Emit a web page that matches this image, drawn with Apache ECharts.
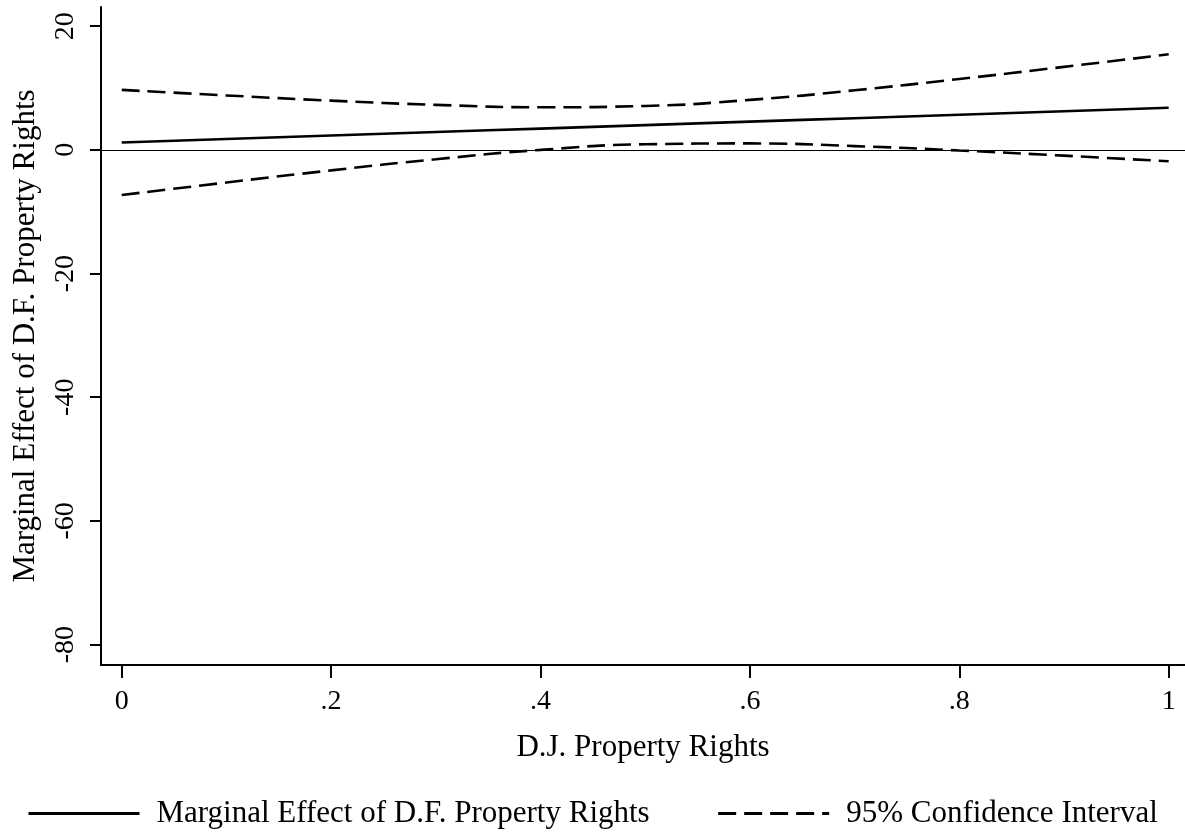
<!DOCTYPE html>
<html>
<head>
<meta charset="utf-8">
<script src="https://cdn.jsdelivr.net/npm/echarts@6/dist/echarts.min.js"></script>
<style>
  html, body { margin: 0; padding: 0; background: #fff; }
  #chart { width: 1185px; height: 833px; }
</style>
</head>
<body>
<div id="chart"></div>
<script>
// D.J. property rights values at which the marginal effect is evaluated
const djRights = [0, 0.1, 0.2, 0.3, 0.4, 0.5, 0.6, 0.7, 0.8, 0.9, 1.0];
// Marginal effect of D.F. property rights
const marginalEffect = [1.2, 1.76, 2.32, 2.88, 3.44, 4.0, 4.56, 5.12, 5.68, 6.24, 6.8];
// 95% confidence bounds
const ciUpper = [9.7, 8.8, 7.96, 7.28, 6.89, 7.1, 8.08, 9.63, 11.46, 13.42, 15.45];
const ciLower = [-7.3, -5.28, -3.32, -1.52, -0.01, 0.9, 1.04, 0.61, -0.1, -0.94, -1.85];
// Axis ticks
const xTicks = [0, 0.2, 0.4, 0.6, 0.8, 1];
const yTicks = [-80, -60, -40, -20, 0, 20];

const seriesNames = ['Marginal Effect of D.F. Property Rights', '95% Confidence Interval'];
const FONT = '"Liberation Serif", "Times New Roman", serif';
const TITLE_SIZE = 31;
const TICK_SIZE = 28;

const pairs = (ys) => djRights.map((x, i) => [x, ys[i]]);

const chart = echarts.init(document.getElementById('chart'), null, { renderer: 'canvas' });

chart.setOption({
  animation: false,
  backgroundColor: '#fff',
  textStyle: { fontFamily: FONT, color: '#000' },
  grid: { left: 101, top: 7, width: 1084, height: 658, containLabel: false },
  legend: {
    left: 27,
    top: 798,
    padding: 0,
    itemWidth: 111,
    itemHeight: 14,
    itemGap: 67,
    itemStyle: { opacity: 0 },
    lineStyle: { width: 3 },
    textStyle: { fontFamily: FONT, fontSize: TITLE_SIZE, color: '#000', padding: [0, 0, 0, 12] },
    data: seriesNames
  },
  xAxis: {
    type: 'value',
    min: -0.0198,
    max: 1.0156,
    name: 'D.J. Property Rights',
    nameLocation: 'middle',
    nameGap: 67,
    nameTextStyle: { fontFamily: FONT, fontSize: TITLE_SIZE, color: '#000' },
    axisLine: { onZero: false, lineStyle: { color: '#000', width: 2 } },
    axisTick: { customValues: xTicks, length: 13, lineStyle: { color: '#000', width: 2 } },
    axisLabel: {
      customValues: xTicks,
      margin: 23,
      fontFamily: FONT,
      fontSize: TICK_SIZE,
      color: '#000',
      formatter: (v) => (v === 0 || v === 1) ? String(v) : String(v).replace(/^0/, '')
    },
    splitLine: { show: false }
  },
  yAxis: {
    type: 'value',
    min: -83.3,
    max: 23.1,
    name: 'Marginal Effect of D.F. Property Rights',
    nameLocation: 'middle',
    nameGap: 60,
    nameTextStyle: { fontFamily: FONT, fontSize: TITLE_SIZE, color: '#000' },
    axisLine: { show: true, onZero: false, lineStyle: { color: '#000', width: 2 } },
    axisTick: { show: true, customValues: yTicks, length: 11, lineStyle: { color: '#000', width: 2 } },
    axisLabel: {
      customValues: yTicks,
      rotate: 90,
      margin: 21,
      fontFamily: FONT,
      fontSize: TICK_SIZE,
      color: '#000'
    },
    splitLine: { show: false }
  },
  series: [
    {
      name: seriesNames[0],
      type: 'line',
      data: pairs(marginalEffect),
      symbol: 'none',
      smooth: true,
      z: 3,
      lineStyle: { color: '#000', width: 2.6, type: 'solid' },
      itemStyle: { color: '#000' },
      markLine: {
        silent: true,
        symbol: 'none',
        label: { show: false },
        lineStyle: { color: '#000', width: 1, type: 'solid' },
        data: [{ yAxis: 0 }]
      }
    },
    {
      name: seriesNames[1],
      type: 'line',
      data: pairs(ciUpper),
      symbol: 'none',
      smooth: true,
      lineStyle: { color: '#000', width: 2.6, type: [18, 8] },
      itemStyle: { color: '#000' }
    },
    {
      name: seriesNames[1],
      type: 'line',
      data: pairs(ciLower),
      symbol: 'none',
      smooth: true,
      lineStyle: { color: '#000', width: 2.6, type: [18, 8] },
      itemStyle: { color: '#000' }
    }
  ]
});
</script>
</body>
</html>
